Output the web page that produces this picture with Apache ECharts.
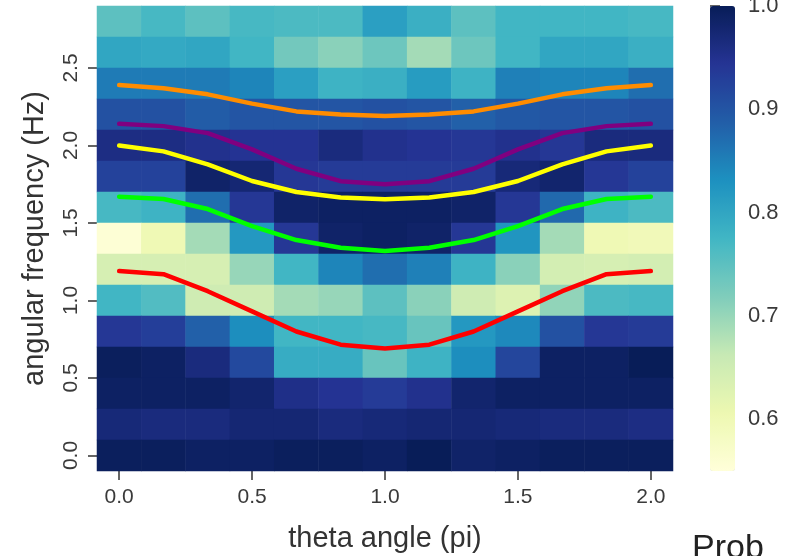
<!DOCTYPE html>
<html><head><meta charset="utf-8">
<script src="https://cdn.jsdelivr.net/npm/echarts@6/dist/echarts.min.js"></script>
<style>html,body{margin:0;padding:0;background:#fff}#c{width:785px;height:556px}</style>
</head><body><div id="c"></div><script>
// ---- data ----
const thetaValues = [0, 0.1667, 0.3333, 0.5, 0.6667, 0.8333, 1.0, 1.1667, 1.3333, 1.5, 1.6667, 1.8333, 2.0];
const freqValues = [0.0, 0.2, 0.4, 0.6, 0.8, 1.0, 1.2, 1.4, 1.6, 1.8, 2.0, 2.2, 2.4, 2.6, 2.8];
const thetaTicks = [0, 0.5, 1.0, 1.5, 2.0];
const freqTicks = [0, 0.5, 1.0, 1.5, 2.0, 2.5];
const colorbarTicks = [0.6, 0.7, 0.8, 0.9, 1.0];

// probability rows, top (2.8 Hz) first
const row28 = [0.75, 0.77, 0.75, 0.77, 0.765, 0.765, 0.81, 0.785, 0.75, 0.775, 0.775, 0.775, 0.77];
const row26 = [0.80, 0.795, 0.80, 0.775, 0.73, 0.71, 0.735, 0.69, 0.735, 0.775, 0.80, 0.80, 0.785];
const row24 = [0.855, 0.855, 0.855, 0.845, 0.81, 0.78, 0.785, 0.815, 0.78, 0.85, 0.845, 0.845, 0.87];
const row22 = [0.905, 0.905, 0.89, 0.90, 0.90, 0.90, 0.905, 0.90, 0.885, 0.895, 0.90, 0.90, 0.905];
const row20 = [0.96, 0.96, 0.95, 0.945, 0.945, 0.965, 0.95, 0.945, 0.94, 0.95, 0.94, 0.965, 0.965];
const row18 = [0.925, 0.925, 0.985, 0.975, 0.94, 0.935, 0.935, 0.935, 0.935, 0.97, 0.98, 0.94, 0.925];
const row16 = [0.77, 0.78, 0.87, 0.94, 0.985, 0.99, 0.99, 0.99, 0.985, 0.94, 0.875, 0.78, 0.765];
const row14 = [0.555, 0.60, 0.69, 0.82, 0.94, 0.985, 0.99, 0.985, 0.94, 0.825, 0.69, 0.60, 0.595];
const row12 = [0.64, 0.64, 0.64, 0.70, 0.775, 0.845, 0.87, 0.85, 0.78, 0.71, 0.645, 0.64, 0.645];
const row10 = [0.775, 0.76, 0.65, 0.65, 0.69, 0.70, 0.75, 0.71, 0.65, 0.63, 0.705, 0.765, 0.77];
const row08 = [0.94, 0.93, 0.885, 0.835, 0.775, 0.775, 0.77, 0.74, 0.82, 0.84, 0.905, 0.94, 0.935];
const row06 = [0.995, 0.99, 0.965, 0.915, 0.79, 0.79, 0.74, 0.78, 0.835, 0.92, 0.99, 0.99, 1.0];
const row04 = [0.99, 0.99, 0.99, 0.98, 0.955, 0.945, 0.935, 0.95, 0.98, 0.99, 0.99, 0.99, 0.99];
const row02 = [0.97, 0.965, 0.965, 0.975, 0.975, 0.965, 0.97, 0.975, 0.975, 0.97, 0.965, 0.965, 0.96];
const row00 = [0.995, 0.995, 0.99, 0.99, 0.995, 0.995, 0.99, 1.0, 0.985, 0.99, 0.995, 0.995, 0.995];
const probRows = [row28, row26, row24, row22, row20, row18, row16, row14, row12, row10, row08, row06, row04, row02, row00];

// dispersion curves (angular frequency at each theta)
const orangeCurve = [2.39, 2.37, 2.33, 2.27, 2.22, 2.20, 2.19, 2.20, 2.22, 2.27, 2.33, 2.37, 2.39];
const purpleCurve = [2.14, 2.125, 2.08, 1.975, 1.85, 1.77, 1.75, 1.77, 1.85, 1.975, 2.08, 2.125, 2.14];
const yellowCurve = [2.00, 1.962, 1.878, 1.771, 1.70, 1.665, 1.654, 1.665, 1.70, 1.771, 1.878, 1.962, 2.00];
const greenCurve  = [1.67, 1.655, 1.59, 1.48, 1.39, 1.34, 1.32, 1.34, 1.39, 1.48, 1.59, 1.655, 1.67];
const redCurve    = [1.19, 1.17, 1.06, 0.93, 0.80, 0.715, 0.69, 0.715, 0.80, 0.93, 1.06, 1.17, 1.19];

// ---- build ----
const heatData = [];
probRows.forEach((row, r) => {
  const yi = freqValues.length - 1 - r;
  row.forEach((v, c) => heatData.push([c, yi, v]));
});
const toPairs = arr => arr.map((v, i) => [thetaValues[i], v]);
const curves = [
  {d: orangeCurve, c: '#ff8c00'},
  {d: purpleCurve, c: '#800080'},
  {d: yellowCurve, c: '#ffff00'},
  {d: greenCurve,  c: '#00ff00'},
  {d: redCurve,    c: '#ff0000'}
];
const FONT = "'Liberation Sans', Arial, sans-serif";
const TXT = '#3a3a3a';

const chart = echarts.init(document.getElementById('c'), null, {renderer: 'canvas'});
chart.setOption({
  animation: false,
  backgroundColor: '#ffffff',
  grid: [
    {left: 97, top: 6, width: 576, height: 465, outerBoundsMode: 'none', containLabel: false},
    {left: 710, top: 6, width: 25, height: 465, outerBoundsMode: 'none', containLabel: false}
  ],
  xAxis: [
    {type: 'category', gridIndex: 0, position: 'top', data: thetaValues.map(String), show: false, boundaryGap: true},
    {type: 'value', gridIndex: 0, position: 'bottom', min: -1/12, max: 25/12,
      axisLine: {show: false}, splitLine: {show: false},
      axisTick: {show: true, length: 9, lineStyle: {color: '#333', width: 1.5}, customValues: thetaTicks},
      axisLabel: {customValues: thetaTicks, formatter: v => v.toFixed(1), fontSize: 21, color: TXT, fontFamily: FONT, margin: 16},
      name: 'theta angle (pi)', nameLocation: 'middle', nameGap: 53,
      nameTextStyle: {fontSize: 29, color: '#333', fontFamily: FONT}},
    {type: 'value', gridIndex: 1, show: false, min: 0, max: 1}
  ],
  yAxis: [
    {type: 'category', gridIndex: 0, position: 'right', data: freqValues.map(v => v.toFixed(1)), show: false, boundaryGap: true},
    {type: 'value', gridIndex: 0, position: 'left', min: -0.1, max: 2.9,
      axisLine: {show: false}, splitLine: {show: false},
      axisTick: {show: true, length: 9, lineStyle: {color: '#333', width: 1.5}, customValues: freqTicks},
      axisLabel: {customValues: freqTicks, formatter: v => v.toFixed(1), fontSize: 21, color: TXT, fontFamily: FONT, margin: 15, rotate: 90},
      name: 'angular frequency (Hz)', nameLocation: 'middle', nameGap: 48, nameRotate: 90,
      nameTextStyle: {fontSize: 29, color: '#333', fontFamily: FONT}},
    {type: 'value', gridIndex: 1, position: 'right', min: 0.55, max: 1.0,
      axisLine: {show: false}, splitLine: {show: false},
      axisTick: {show: true, length: 10, lineStyle: {color: '#333', width: 1.5}, customValues: colorbarTicks},
      axisLabel: {customValues: colorbarTicks, formatter: v => v.toFixed(1), fontSize: 22, color: TXT, fontFamily: FONT, margin: 13}}
  ],
  visualMap: {
    type: 'continuous', min: 0.55, max: 1.0, seriesIndex: 0,
    left: 710, top: 6, itemWidth: 25, itemHeight: 465, padding: 0,
    calculable: false, hoverLink: false, orient: 'vertical',
    inRange: {color: ['#ffffd9', '#edf8b1', '#c7e9b4', '#7fcdbb', '#41b6c4', '#1d91c0', '#225ea8', '#253494', '#081d58']}
  },
  graphic: [
    {type: 'text', left: 692, top: 532, silent: true,
      style: {text: 'Prob', fontSize: 34, fontFamily: FONT, fill: '#222'}}
  ],
  series: [
    {type: 'heatmap', xAxisIndex: 0, yAxisIndex: 0, data: heatData, silent: true,
      itemStyle: {borderWidth: 0}, emphasis: {disabled: true}, progressive: 0}
  ].concat(curves.map(cv => ({
    type: 'line', xAxisIndex: 1, yAxisIndex: 1, data: toPairs(cv.d), smooth: false,
    showSymbol: false, symbol: 'none', silent: true, z: 5,
    lineStyle: {color: cv.c, width: 4.5, cap: 'round', join: 'round'}
  })))
});
</script></body></html>
